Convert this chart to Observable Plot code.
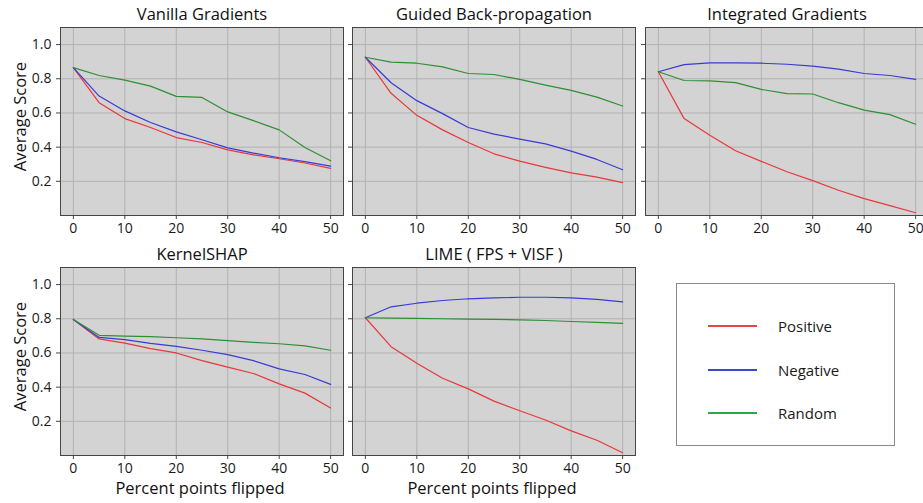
<!DOCTYPE html>
<html>
<head>
<meta charset="utf-8">
<script src="https://cdn.jsdelivr.net/npm/d3@7"></script>
<script src="https://cdn.jsdelivr.net/npm/@observablehq/plot@0.6"></script>
<style>
  html, body { margin: 0; padding: 0; background: #ffffff; }
  #chart { position: relative; width: 923px; height: 503px; overflow: hidden; background: #ffffff;
           font-family: "Open Sans", "Noto Sans", sans-serif; }
  .panel { position: absolute; }
  .panel svg { max-width: none !important; display: block; }
  #legend { position: absolute; left: 676px; top: 283px; width: 219px; height: 163px;
            border: 1px solid #8a8a8a; background: #ffffff; box-sizing: border-box; }
  .item { position: absolute; left: 31px; height: 20px; display: flex; align-items: center; }
  .item svg { display: block; }
  .item span { margin-left: 21px; font-size: 15px; color: #1a1a1a; }
</style>
</head>
<body>
<div id="chart">
  <div id="legend"></div>
</div>
<script>
// ---- data ----
const percentFlipped = [0, 5, 10, 15, 20, 25, 30, 35, 40, 45, 50];
const seriesNames = ["Positive", "Negative", "Random"];
const seriesColors = ["#e8383a", "#3a3ad8", "#2e8f34"];
const legendColors = ["#e8454a", "#3b48c8", "#2aa84a"];
const xTicks = [0, 10, 20, 30, 40, 50];
const yTicks = [0.2, 0.4, 0.6, 0.8, 1.0];
const panelTitles = ["Vanilla Gradients", "Guided Back-propagation", "Integrated Gradients", "KernelSHAP", "LIME ( FPS + VISF )"];
const xLabel = "Percent points flipped";
const yLabel = "Average Score";

const vanillaPositive = [0.865, 0.660, 0.567, 0.515, 0.456, 0.427, 0.384, 0.355, 0.332, 0.307, 0.276];
const vanillaNegative = [0.865, 0.699, 0.612, 0.544, 0.489, 0.443, 0.396, 0.365, 0.338, 0.315, 0.289];
const vanillaRandom   = [0.865, 0.819, 0.792, 0.757, 0.697, 0.691, 0.606, 0.555, 0.501, 0.398, 0.320];

const guidedPositive = [0.926, 0.715, 0.586, 0.501, 0.427, 0.361, 0.318, 0.282, 0.249, 0.225, 0.192];
const guidedNegative = [0.926, 0.777, 0.672, 0.596, 0.515, 0.476, 0.447, 0.419, 0.377, 0.328, 0.268];
const guidedRandom   = [0.926, 0.897, 0.891, 0.870, 0.831, 0.825, 0.796, 0.763, 0.732, 0.693, 0.641];

const integratedPositive = [0.841, 0.567, 0.470, 0.379, 0.317, 0.256, 0.204, 0.148, 0.099, 0.058, 0.016];
const integratedNegative = [0.841, 0.883, 0.893, 0.893, 0.891, 0.885, 0.874, 0.856, 0.831, 0.819, 0.796];
const integratedRandom   = [0.841, 0.790, 0.788, 0.777, 0.738, 0.713, 0.711, 0.660, 0.617, 0.590, 0.534];

const kernelShapPositive = [0.796, 0.682, 0.658, 0.625, 0.600, 0.555, 0.517, 0.480, 0.419, 0.365, 0.278];
const kernelShapNegative = [0.796, 0.691, 0.678, 0.656, 0.639, 0.616, 0.590, 0.555, 0.507, 0.474, 0.416];
const kernelShapRandom   = [0.796, 0.703, 0.699, 0.695, 0.689, 0.682, 0.672, 0.662, 0.654, 0.641, 0.616];

const limePositive = [0.806, 0.637, 0.540, 0.452, 0.390, 0.318, 0.262, 0.208, 0.144, 0.089, 0.016];
const limeNegative = [0.806, 0.870, 0.891, 0.907, 0.917, 0.922, 0.926, 0.926, 0.922, 0.913, 0.899];
const limeRandom   = [0.806, 0.804, 0.802, 0.800, 0.798, 0.796, 0.794, 0.790, 0.784, 0.779, 0.773];

const panelSeries = [
  [vanillaPositive, vanillaNegative, vanillaRandom],
  [guidedPositive, guidedNegative, guidedRandom],
  [integratedPositive, integratedNegative, integratedRandom],
  [kernelShapPositive, kernelShapNegative, kernelShapRandom],
  [limePositive, limeNegative, limeRandom]
];

// ---- layout ----
const frameW = 283, frameH = 188;
const colLefts = [60, 352, 645];
const rowTops = [27, 267.3];
const font = '"Open Sans", "Noto Sans", sans-serif';

const chart = document.getElementById("chart");

panelTitles.forEach((title, k) => {
  const col = k % 3, row = Math.floor(k / 3);
  const ml = col === 0 ? 60 : 12, mr = 4, mt = 27, mb = 48;
  const rows = [];
  panelSeries[k].forEach((vals, si) => {
    percentFlipped.forEach((x, i) => rows.push({x, y: vals[i], s: seriesNames[si]}));
  });
  const marks = [
    Plot.frame({fill: "#d3d3d3", stroke: "none"}),
    Plot.gridX(xTicks, {stroke: "#b2b2b2", strokeOpacity: 1, strokeWidth: 1}),
    Plot.gridY(yTicks, {stroke: "#b2b2b2", strokeOpacity: 1, strokeWidth: 1}),
    Plot.line(rows, {x: "x", y: "y", z: "s", stroke: "s", strokeWidth: 1.2}),
    Plot.frame({stroke: "#454545", strokeWidth: 1}),
    Plot.axisX({ticks: xTicks, tickSize: 4, tickPadding: 4, fontSize: 14, label: null, stroke: "#454545"}),
    Plot.axisY({ticks: yTicks, tickSize: 4, tickPadding: 5, fontSize: 14, label: null, stroke: "#454545",
                tickFormat: col === 0 ? d3.format(".1f") : () => ""}),
    Plot.text([title], {frameAnchor: "top", dy: -13, lineAnchor: "middle", fontSize: 16.5, fill: "#111"})
  ];
  if (col === 0) {
    marks.push(Plot.text([yLabel], {frameAnchor: "left", rotate: -90, dx: -40, dy: -5,
      lineAnchor: "middle", textAnchor: "middle", fontSize: 16.5, fill: "#111"}));
  }
  if (row === 1) {
    marks.push(Plot.text([xLabel], {frameAnchor: "bottom", dy: 33, dx: -2, lineAnchor: "middle",
      fontSize: 16.5, fill: "#111"}));
  }
  const w = ml + frameW + mr, h = mt + frameH + mb;
  const svg = Plot.plot({
    width: w,
    height: h,
    marginLeft: ml, marginRight: mr, marginTop: mt, marginBottom: mb,
    x: {domain: [-2.5, 52.5]},
    y: {domain: [0, 1.1]},
    color: {domain: seriesNames, range: seriesColors},
    style: {fontFamily: font, fontSize: "14px", color: "#1a1a1a", background: "transparent", overflow: "visible"},
    marks
  });
  const div = document.createElement("div");
  div.className = "panel";
  div.style.left = (colLefts[col] - ml) + "px";
  div.style.top = (rowTops[row] - mt) + "px";
  div.style.width = w + "px";
  div.style.height = h + "px";
  div.appendChild(svg);
  chart.appendChild(div);
});

// ---- legend ----
const legend = document.getElementById("legend");
const legendTops = [32, 76, 119];
seriesNames.forEach((name, i) => {
  const item = document.createElement("div");
  item.className = "item";
  item.style.top = legendTops[i] + "px";
  item.innerHTML = `<svg width="49" height="4"><line x1="0" x2="49" y1="2" y2="2" stroke="${legendColors[i]}" stroke-width="2"/></svg><span>${name}</span>`;
  legend.appendChild(item);
});
chart.appendChild(legend);
</script>
</body>
</html>
